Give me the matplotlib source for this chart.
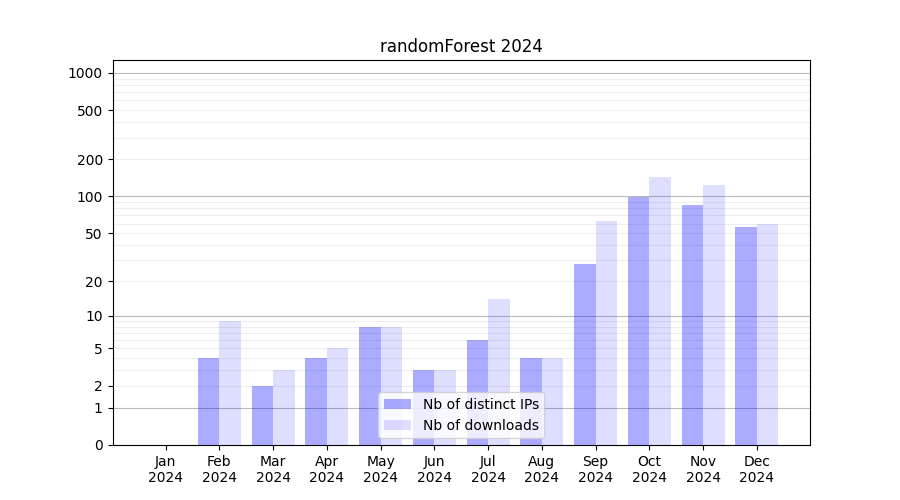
import numpy as np
import matplotlib.pyplot as plt
from matplotlib.ticker import FixedLocator

months = ['Jan', 'Feb', 'Mar', 'Apr', 'May', 'Jun', 'Jul', 'Aug', 'Sep', 'Oct', 'Nov', 'Dec']
year = 2024
distinct_ips = [0, 4, 2, 4, 8, 3, 6, 4, 28, 99, 85, 56]
downloads = [0, 9, 3, 5, 8, 3, 14, 4, 63, 145, 124, 60]

fwd = lambda v: np.log10(1 + np.asarray(v, dtype=float))
inv = lambda v: 10 ** np.asarray(v, dtype=float) - 1

fig, ax = plt.subplots(figsize=(9, 5), dpi=100)
x = np.arange(len(months))
w = 0.4
ax.bar(x - w / 2, distinct_ips, width=w, color='blue', alpha=0.33, label='Nb of distinct IPs')
ax.bar(x + w / 2, downloads, width=w, color='blue', alpha=0.13, label='Nb of downloads')

ax.set_yscale('function', functions=(fwd, inv))
ax.set_ylim(0, 1270)
ax.yaxis.set_major_locator(FixedLocator([0, 1, 2, 5, 10, 20, 50, 100, 200, 500, 1000]))
ax.yaxis.set_major_formatter(plt.FuncFormatter(lambda v, p: '%d' % v))
ax.yaxis.set_minor_locator(FixedLocator([]))

# grid lines: decades darker, the rest light
for d in [1, 10, 100, 1000]:
    ax.axhline(d, color='#bbbbbb', lw=0.8, zorder=0)
    for m in range(2, 10):
        ax.axhline(d * m, color='#eeeeee', lw=0.8, zorder=0)

ax.set_xticks(x)
ax.set_xticklabels(['%s\n%d' % (m, year) for m in months])
ax.set_title('randomForest %d' % year)
ax.legend(loc='lower center')

fig.savefig('out.png')
